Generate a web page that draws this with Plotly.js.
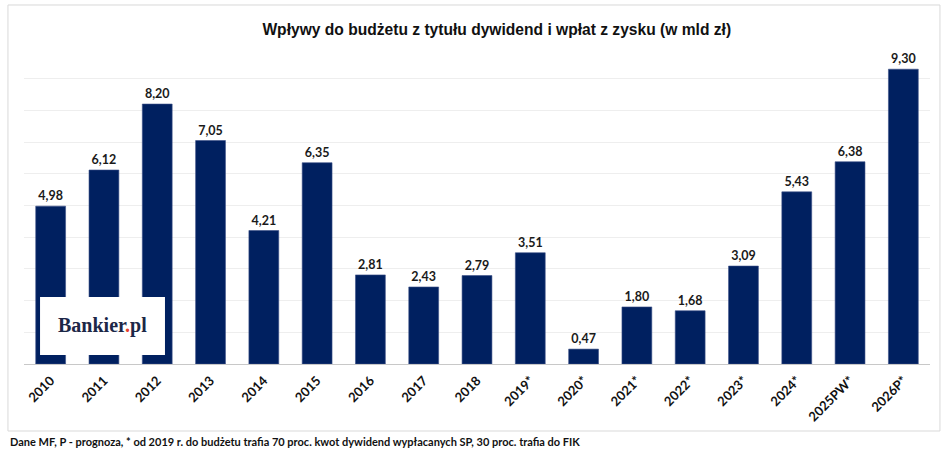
<!DOCTYPE html>
<html>
<head>
<meta charset="utf-8">
<script src="https://cdn.plot.ly/plotly-3.0.1.min.js"></script>
<style>
  html, body { margin: 0; padding: 0; background: #fff; }
  #chart { width: 948px; height: 454px; }
</style>
</head>
<body>
<div id="chart"></div>
<script>
let years = ["2010", "2011", "2012", "2013", "2014", "2015", "2016", "2017", "2018",
             "2019*", "2020*", "2021*", "2022*", "2023*", "2024*", "2025PW*", "2026P*"];
let inflows = [4.98, 6.12, 8.20, 7.05, 4.21, 6.35, 2.81, 2.43, 2.79,
               3.51, 0.47, 1.80, 1.68, 3.09, 5.43, 6.38, 9.30];

let chartTitle = "Wpływy do budżetu z tytułu dywidend i wpłat z zysku (w mld zł)";
let footnote = "Dane MF, P - prognoza, * od 2019 r. do budżetu trafia 70 proc. kwot dywidend wypłacanych SP, 30 proc. trafia do FIK";

let navy = "#002060";

let bars = {
    x: years,
    y: inflows,
    type: "bar",
    marker: { color: navy, line: { color: "#3a4f86", width: 0.6 } },
    texttemplate: "%{y:.2f}",
    textposition: "outside",
    cliponaxis: false,
    textfont: { family: "Lato, 'Open Sans', sans-serif", size: 12.5, color: "#1a1a1a", weight: "bold" },
    hoverinfo: "skip"
};

let layout = {
    width: 948,
    height: 454,
    margin: { l: 24, r: 18, t: 47, b: 90 },
    paper_bgcolor: "#ffffff",
    plot_bgcolor: "#ffffff",
    separators: ",.",
    bargap: 0.44,
    showlegend: false,
    title: {
        text: chartTitle,
        font: { family: "'Liberation Sans', Arial, sans-serif", size: 15.6, color: "#111", weight: "bold" },
        x: 0.524, xanchor: "center",
        y: 0.934, yanchor: "middle"
    },
    xaxis: {
        type: "category",
        tickangle: -45,
        tickfont: { family: "Lato, 'Open Sans', sans-serif", size: 13, color: "#111", weight: "bold" },
        ticklabelstandoff: 3,
        showline: true,
        linecolor: "#c8c8c8",
        linewidth: 1,
        ticks: "",
        showgrid: false,
        fixedrange: true
    },
    yaxis: {
        range: [0, 10],
        dtick: 1,
        showgrid: true,
        gridcolor: "#eeeeee",
        gridwidth: 1,
        zeroline: false,
        showticklabels: false,
        fixedrange: true
    },
    shapes: [
        {
            type: "rect", xref: "paper", yref: "paper",
            x0: -0.0177, x1: 1.011, y0: -0.2114, y1: 1.1325,
            line: { color: "#d9d9d9", width: 1 },
            fillcolor: "rgba(0,0,0,0)",
            layer: "below"
        },
        {
            type: "rect", xref: "paper", yref: "y",
            x0: 0.0177, x1: 0.1556, y0: 0.28, y1: 2.11,
            line: { width: 0 },
            fillcolor: "#ffffff",
            layer: "above"
        }
    ],
    annotations: [
        {
            xref: "paper", yref: "y",
            x: 0.0866, y: 1.2,
            text: "<b>Bankier<span style=\"color:#e8412c\">.</span>pl</b>",
            font: { family: "'Liberation Serif', 'DejaVu Serif', serif", size: 20, color: "#1c2747" },
            showarrow: false,
            xanchor: "center", yanchor: "middle"
        },
        {
            xref: "paper", yref: "paper",
            x: -0.0177, y: -0.246,
            text: footnote,
            font: { family: "Lato, 'Open Sans', sans-serif", size: 11, color: "#111", weight: "bold" },
            showarrow: false,
            xanchor: "left", yanchor: "middle"
        }
    ]
};

Plotly.newPlot("chart", [bars], layout, { displayModeBar: false, staticPlot: true });
</script>
</body>
</html>
